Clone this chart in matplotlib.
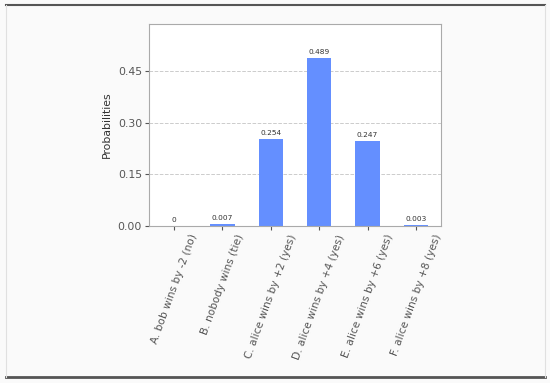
import matplotlib.pyplot as plt
from matplotlib.lines import Line2D

labels = ["A. bob wins by -2 (no)", "B. nobody wins (tie)", "C. alice wins by +2 (yes)",
          "D. alice wins by +4 (yes)", "E. alice wins by +6 (yes)", "F. alice wins by +8 (yes)"]
probs = [0.0, 0.007, 0.254, 0.489, 0.247, 0.003]
bar_text = ["0", "0.007", "0.254", "0.489", "0.247", "0.003"]
yticks = [0.0, 0.15, 0.30, 0.45]

fig = plt.figure(figsize=(5.5, 3.83), dpi=100, facecolor="#fafafa")
ax = fig.add_axes([149/550, 1 - 226/383, 292/550, 202/383])
ax.set_facecolor("white")

pos = list(range(len(labels)))
bars = ax.bar(pos, probs, width=0.5, color="#648fff", zorder=2)
for b, t in zip(bars, bar_text):
    ax.text(b.get_x() + b.get_width()/2, b.get_height() + 0.008, t,
            ha="center", va="bottom", fontsize=5.3, color="#333333")

ax.set_xlim(-0.52, 5.52)
ax.set_ylim(0, 0.587)
ax.set_yticks(yticks)
ax.set_yticklabels(["%.2f" % v for v in yticks], fontsize=7.8, color="#333333")
ax.set_xticks(pos)
ax.set_xticklabels(labels, rotation=70, ha="center", fontsize=7.6, color="#333333")
ax.set_ylabel("Probabilities", fontsize=7.8, color="#333333")
ax.grid(axis="y", linestyle="--", color="#cccccc", linewidth=0.7, zorder=0)
for s in ax.spines.values():
    s.set_color("#aaaaaa")
ax.tick_params(colors="#555555", length=3, pad=2)

# image frame
fig.add_artist(Line2D([0.01, 0.99], [1 - 4.5/383, 1 - 4.5/383], color="#555555", lw=1.5, transform=fig.transFigure))
fig.add_artist(Line2D([0.01, 0.99], [1 - 377/383, 1 - 377/383], color="#555555", lw=2, transform=fig.transFigure))
fig.add_artist(Line2D([0.01, 0.01], [1 - 4.5/383, 1 - 377/383], color="#e0e0e0", lw=0.8, transform=fig.transFigure))
fig.add_artist(Line2D([0.99, 0.99], [1 - 4.5/383, 1 - 377/383], color="#e0e0e0", lw=0.8, transform=fig.transFigure))

fig.savefig("out.png", dpi=100, facecolor=fig.get_facecolor())
